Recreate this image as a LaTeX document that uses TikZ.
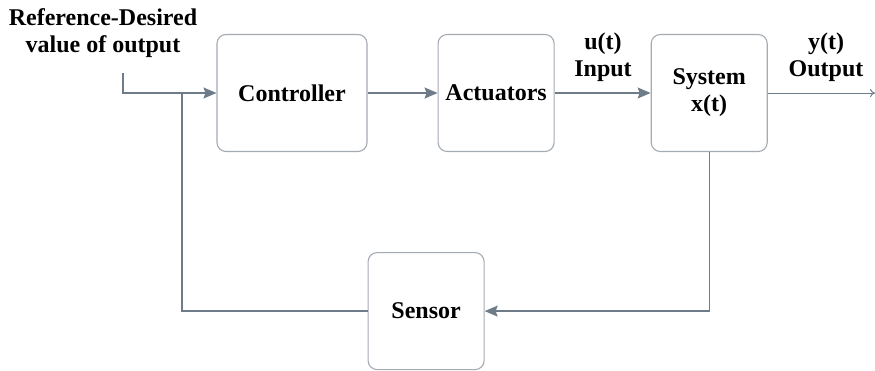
\documentclass[tikz,border=0pt]{standalone}
\usepackage{fontspec}
\setmainfont{Liberation Serif}
\usetikzlibrary{arrows.meta,positioning}

\definecolor{linegray}{HTML}{6E7C8A}
\definecolor{boxgray}{HTML}{A4ABB3}

\begin{document}
\begin{tikzpicture}[x=1pt,y=-1pt,->,>={Stealth[length=13pt,width=11pt,inset=2pt]},
                    line width=1.3pt,draw=linegray,node distance=70pt,
                    font=\fontsize{24}{27}\selectfont\bfseries]
  \tikzstyle{block}=[draw=boxgray,line width=1.1pt,rounded corners=9pt,
                     minimum width=116pt,minimum height=117pt,align=center]
  \tikzstyle{lbl}=[align=center,inner sep=0pt]

  \useasboundingbox (0,0) rectangle (875,370);

  \node[block,minimum width=150pt] (ctrl) at (292,93)          {Controller};
  \node[block] (act)  [right=70pt of ctrl]                     {Actuators};
  \node[block] (sys)  [right=96pt of act]                      {System\\x(t)};
  \node[block] (sens) [below right=100pt and 0pt of ctrl]      {Sensor};

  \coordinate (ref) at (123,73);
  \coordinate (fb)  at (182,93);
  \coordinate (out) at (875,93);

  \node[lbl] (reflbl) at (103,33)  {Reference-Desired\\value of output};
  \node[lbl] (inlbl)  at (603,57)  {u(t)\\Input};
  \node[lbl] (outlbl) at (826,57)  {y(t)\\Output};

  \draw[-,linegray] (ref) |- (fb);
  \draw[linegray] (fb) -- (ctrl);
  \path[draw=linegray] (ctrl) edge (act)
        (act) edge (sys);
  \draw[->,>={To[length=5pt,width=8pt]},linegray,line width=1pt] (sys) -- (out);
  \draw[linegray] (sys.south) |- (sens.east);
  \draw[-,linegray] (sens.west) -| (fb);
\end{tikzpicture}
\end{document}
